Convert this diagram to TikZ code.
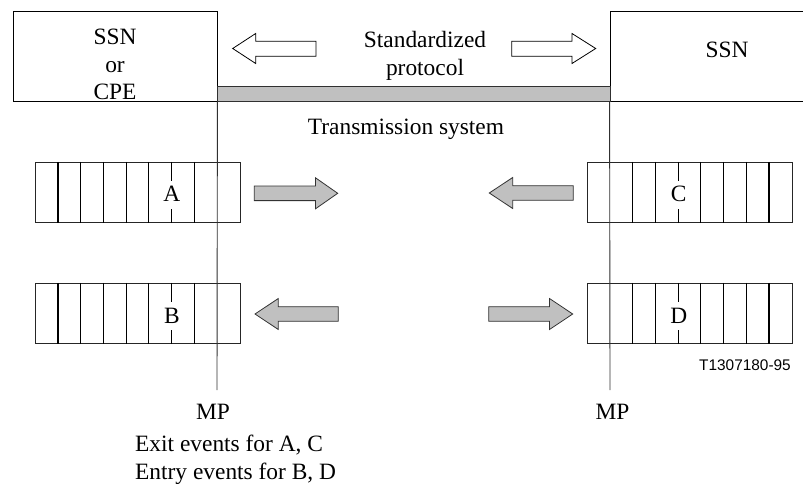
\documentclass[tikz,border=0pt]{standalone}
\usepackage{fontspec}
\setmainfont{Liberation Serif}
\newfontfamily\arialf{Liberation Sans}
\definecolor{gfill}{HTML}{C0C0C0}
\definecolor{lnc}{HTML}{303030}
\begin{document}
\begin{tikzpicture}[x=1pt,y=-1pt,
  txt/.style={inner sep=0pt,anchor=base,font=\fontsize{23.4}{27.5}\selectfont},
  boxst/.style={draw=black,line width=0.8pt,inner sep=0pt},
  regst/.style={draw=black!85,line width=0.8pt,inner sep=0pt,minimum width=204.3pt,minimum height=60.4pt},
  divst/.style={black,line width=1.2pt},
  mpline/.style={lnc,line width=0.9pt},
  harrowst/.style={draw=black,fill=white,line width=0.8pt,line join=miter},
  garrowst/.style={draw=black!80,fill=gfill,line width=0.8pt,line join=miter}]
\clip (0,0) rectangle (803,484);
\useasboundingbox (0,0) rectangle (803,484);
% boxes
\node[boxst,minimum width=204pt,minimum height=90.4pt] (L) at (115,56.5) {};
\node[boxst,minimum width=240pt,minimum height=90.4pt] (R) at (730,56.5) {};
\node[draw=lnc,fill=gfill,line width=0.8pt,inner sep=0pt,minimum width=393pt,minimum height=15pt] (bar) at (413.5,94.2) {};
\node[txt] (l1) at (115,44.7) {SSN};
\node[txt] (l2) at (115,72.2) {or};
\node[txt] (l3) at (115,99.7) {CPE};
\node[txt] (r1) at (727,57.7) {SSN};
\node[txt] (s1) at (425,47.7) {Standardized};
\node[txt] (s2) at (425,75.2) {protocol};
\node[txt] (ts) at (406,134.4) {Transmission system};
% hollow arrows
\draw[harrowst] (232.7,48.5) -- (255.7,33.5) -- (255.7,41.2) -- (316,41.2) -- (316,56.2) -- (255.7,56.2) -- (255.7,63.5) -- cycle;
\draw[harrowst] (595.7,48.5) -- (572,33.5) -- (572,41.2) -- (511.7,41.2) -- (511.7,56.2) -- (572,56.2) -- (572,63.5) -- cycle;
% registers
\node[regst] (regA) at (137.85,192.5) {};
\node[regst] (regB) at (137.85,313.5) {};
\node[regst] (regC) at (689.9,192.5) {};
\node[regst] (regD) at (689.9,313.5) {};
\foreach \r in {regA,regB}{
  \foreach \k in {1,2,3,4,5,7}{
    \draw[divst] ([xshift=\k*22.7pt]\r.north west) -- ([xshift=\k*22.7pt]\r.south west);
  }
  \draw[divst] ([xshift=6*22.7pt]\r.north west) -- ++(0,19.4);
  \draw[divst] ([xshift=6*22.7pt]\r.south west) -- ++(0,-13.8);
}
\foreach \r in {regC,regD}{
  \foreach \k in {2,3,5,6,7,8}{
    \draw[divst] ([xshift=\k*22.7pt]\r.north west) -- ([xshift=\k*22.7pt]\r.south west);
  }
  \draw[divst] ([xshift=4*22.7pt]\r.north west) -- ++(0,19.4);
  \draw[divst] ([xshift=4*22.7pt]\r.south west) -- ++(0,-13.8);
}
\node[txt] (la) at (171.9,201.7) {A};
\node[txt] (lb) at (171.9,323.3) {B};
\node[txt] (lc) at (678.7,201.5) {C};
\node[txt] (ld) at (678.7,323.5) {D};
% MP lines
\coordinate (mpL) at (217,390);
\coordinate (mpR) at (610,390);
\draw[mpline] (L.south east) -- (mpL);
\draw[mpline] (R.south west) -- (mpR);
% gray arrows
\draw[garrowst] (337.7,193.3) -- (315.5,177.8) -- (315.5,186) -- (254.3,186) -- (254.3,200.6) -- (315.5,200.6) -- (315.5,208.8) -- cycle;
\draw[garrowst] (489.3,193) -- (512.7,177.5) -- (512.7,185.7) -- (573.3,185.7) -- (573.3,200.3) -- (512.7,200.3) -- (512.7,208.5) -- cycle;
\draw[garrowst] (255,314) -- (278.3,298.5) -- (278.3,306.7) -- (338.3,306.7) -- (338.3,321.3) -- (278.3,321.3) -- (278.3,329.5) -- cycle;
\draw[garrowst] (572.7,314) -- (549.5,298.5) -- (549.5,306.7) -- (488.7,306.7) -- (488.7,321.3) -- (549.5,321.3) -- (549.5,329.5) -- cycle;
% bottom labels
\node[inner sep=0pt,anchor=base east,font=\arialf\fontsize{15.4}{18}\selectfont] (tn) at (791,370.7) {T1307180-95};
\node[txt] (mp1) at (213,419) {MP};
\node[txt] (mp2) at (612.5,419) {MP};
\node[txt,anchor=base west] (ex) at (135,451) {Exit events for A, C};
\node[txt,anchor=base west] (en) at (135,479) {Entry events for B, D};
\end{tikzpicture}
\end{document}
